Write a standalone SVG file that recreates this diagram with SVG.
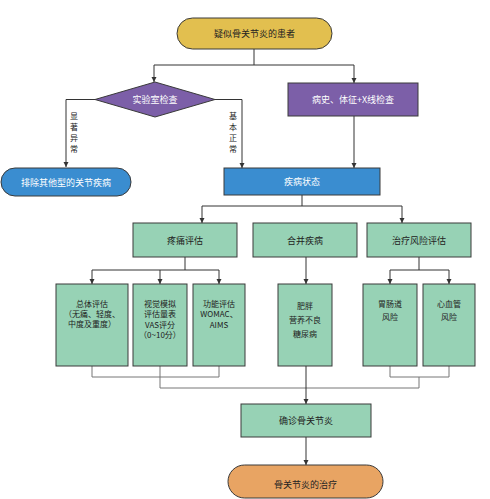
<svg xmlns="http://www.w3.org/2000/svg" width="490" height="499" viewBox="0 0 490 499">
<defs>
<marker id="ah" markerWidth="6" markerHeight="6" refX="5" refY="3" orient="auto" markerUnits="userSpaceOnUse">
<path d="M0,0.5 L5,3 L0,5.5 Z" fill="#333"/>
</marker>
<style>
text{font-family:"Noto Sans CJK SC","Liberation Serif",serif;font-size:9px;text-anchor:middle;dominant-baseline:central;fill:#222}
.w{fill:#fff}
.s{font-size:8px}
.node{stroke:#3a3a3a;stroke-width:1}
.gold{fill:#e2bf4f}
.purple{fill:#7c5fa8}
.blue{fill:#3a8dd0}
.green{fill:#97d2b5}
.orange{fill:#e8a463}
.c{fill:none;stroke:#333;stroke-width:1}
.g{fill:none;stroke:#777;stroke-width:1}
</style>
</defs>
<rect width="490" height="499" fill="#fff"/>
<g id="connectors">
<path class="c" d="M254,49 V65"/>
<path class="c" d="M154,65 H354"/>
<path class="c" d="M154,65 V82" marker-end="url(#ah)"/>
<path class="c" d="M354,65 V83" marker-end="url(#ah)"/>
<path class="c" d="M95,99.5 H66 V167" marker-end="url(#ah)"/>
<path class="c" d="M215,99.5 H242 V168" marker-end="url(#ah)"/>
<path class="c" d="M354,116 V168" marker-end="url(#ah)"/>
<path class="c" d="M302,195 V206"/>
<path class="c" d="M202,206 H402"/>
<path class="c" d="M202,206 V223" marker-end="url(#ah)"/>
<path class="c" d="M402,206 V223" marker-end="url(#ah)"/>
<path class="c" d="M185,257 V270"/>
<path class="c" d="M92,270 H219"/>
<path class="c" d="M92,270 V284" marker-end="url(#ah)"/>
<path class="c" d="M160,270 V284" marker-end="url(#ah)"/>
<path class="c" d="M219,270 V284" marker-end="url(#ah)"/>
<path class="c" d="M306,257 V284" marker-end="url(#ah)"/>
<path class="c" d="M419,257 V270"/>
<path class="c" d="M390,270 H449"/>
<path class="c" d="M390,270 V284" marker-end="url(#ah)"/>
<path class="c" d="M449,270 V284" marker-end="url(#ah)"/>
<path class="g" d="M92,366 V377 H219 V366"/>
<path class="g" d="M160,366 V388 H419"/>
<path class="g" d="M390,366 V377 H449 V366"/>
<path class="g" d="M419,377 V388"/>
<path class="c" d="M306,366 V404" marker-end="url(#ah)"/>
<path class="c" d="M306,437 V465" marker-end="url(#ah)"/>
<text class="s" x="74" y="115">显</text>
<text class="s" x="74" y="126">著</text>
<text class="s" x="74" y="137">异</text>
<text class="s" x="74" y="148">常</text>
<text class="s" x="233" y="115">基</text>
<text class="s" x="233" y="126">本</text>
<text class="s" x="233" y="137">正</text>
<text class="s" x="233" y="148">常</text>
</g>
<g id="start">
<rect class="node gold" x="177" y="18" width="155" height="31" rx="15.5"/>
<text x="254.5" y="33.5">疑似骨关节炎的患者</text>
</g>
<g id="lab">
<polygon class="node purple" points="95,99.5 155,82 215,99.5 155,117"/>
<text class="w" x="155" y="99.5">实验室检查</text>
</g>
<g id="history">
<rect class="node purple" x="288" y="83" width="130" height="33"/>
<text class="w" x="353" y="99.5">病史、体征+X线检查</text>
</g>
<g id="exclude">
<rect class="node blue" x="1" y="168" width="130" height="28" rx="14"/>
<text class="w" x="66" y="182">排除其他型的关节疾病</text>
</g>
<g id="state">
<rect class="node blue" x="224" y="168" width="156" height="27"/>
<text class="w" x="302" y="181.5">疾病状态</text>
</g>
<g id="pain">
<rect class="node green" x="133" y="223" width="104" height="34"/>
<text x="185" y="240">疼痛评估</text>
</g>
<g id="comorbid">
<rect class="node green" x="253" y="223" width="104" height="34"/>
<text x="305" y="240">合并疾病</text>
</g>
<g id="risk">
<rect class="node green" x="367" y="223" width="104" height="34"/>
<text x="419" y="240">治疗风险评估</text>
</g>
<g id="overall">
<rect class="node green" x="56" y="284" width="72" height="82"/>
<text class="s" x="92" y="303">总体评估</text>
<text class="s" x="92" y="313">（无痛、轻度、</text>
<text class="s" x="92" y="323">中度及重度）</text>
</g>
<g id="vas">
<rect class="node green" x="133" y="284" width="54" height="82"/>
<text class="s" x="160" y="303">视觉模拟</text>
<text class="s" x="160" y="313">评估量表</text>
<text class="s" x="160" y="324">VAS评分</text>
<text class="s" x="160" y="334">（0~10分）</text>
</g>
<g id="function">
<rect class="node green" x="193" y="284" width="52" height="82"/>
<text class="s" x="219" y="303">功能评估</text>
<text class="s" x="219" y="313">WOMAC、</text>
<text class="s" x="219" y="324">AIMS</text>
</g>
<g id="diseases">
<rect class="node green" x="278" y="284" width="54" height="82"/>
<text class="s" x="305" y="305">肥胖</text>
<text class="s" x="305" y="319">营养不良</text>
<text class="s" x="305" y="333">糖尿病</text>
</g>
<g id="gi">
<rect class="node green" x="363" y="284" width="54" height="82"/>
<text class="s" x="390" y="303">胃肠道</text>
<text class="s" x="390" y="316">风险</text>
</g>
<g id="cv">
<rect class="node green" x="423" y="284" width="52" height="82"/>
<text class="s" x="449" y="303">心血管</text>
<text class="s" x="449" y="316">风险</text>
</g>
<g id="diagnosis">
<rect class="node green" x="241" y="404" width="130" height="33"/>
<text x="306" y="420.5">确诊骨关节炎</text>
</g>
<g id="treatment">
<rect class="node orange" x="228" y="465" width="155" height="33" rx="16.5"/>
<text x="305.5" y="484">骨关节炎的治疗</text>
</g>
</svg>
